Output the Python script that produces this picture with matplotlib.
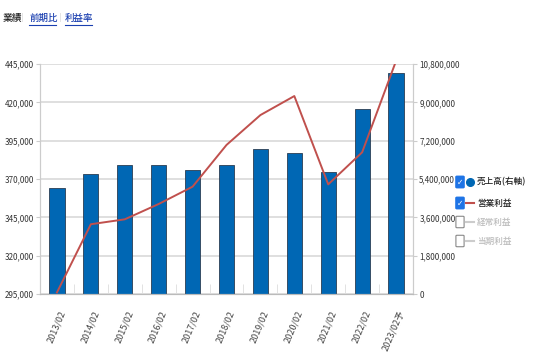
import matplotlib.pyplot as plt
from matplotlib.patches import FancyBboxPatch
from matplotlib.lines import Line2D
from matplotlib.ticker import FuncFormatter, FixedLocator
from matplotlib.transforms import ScaledTranslation

plt.rcParams['font.family'] = ['Noto Sans CJK JP', 'DejaVu Sans']

# データ
years = ['2013/02', '2014/02', '2015/02', '2016/02', '2017/02', '2018/02',
         '2019/02', '2020/02', '2021/02', '2022/02', '2023/02予']
sales = [4990000, 5620000, 6040000, 6040000, 5840000, 6040000,
         6790000, 6610000, 5710000, 8700000, 10390000]
op_profit = [296000, 340500, 343700, 353700, 365000, 392200,
             411700, 424100, 366500, 387400, 447000]
left_ticks = [295000, 320000, 345000, 370000, 395000, 420000, 445000]
right_ticks = [0, 1800000, 3600000, 5400000, 7200000, 9000000, 10800000]

x = list(range(len(years)))
fmt = FuncFormatter(lambda v, p: f'{int(v):,}')

fig = plt.figure(figsize=(5.44, 3.63), dpi=100)
ax = fig.add_axes([40/544, 69/363, 373/544, 230/363])
ax2 = ax.twinx()

# 売上高 (右軸)
ax2.bar(x, sales, width=0.45, color='#0067B4', edgecolor='#2b3d52', linewidth=0.6, zorder=2)
ax2.set_ylim(0, 10800000)
ax2.yaxis.set_major_locator(FixedLocator(right_ticks))
ax2.yaxis.set_major_formatter(fmt)
ax2.grid(axis='y', color='#d9d9d9', linewidth=1.2, zorder=0)
ax2.set_axisbelow(True)

# 営業利益 (左軸)
ax.set_zorder(ax2.get_zorder() + 1)
ax.patch.set_visible(False)
ax.plot(x, op_profit, color='#C0504D', linewidth=1.4, zorder=3, clip_on=True)
ax.set_ylim(295000, 445000)
ax.yaxis.set_major_locator(FixedLocator(left_ticks))
ax.yaxis.set_major_formatter(fmt)
ax.set_xlim(-0.5, len(years) - 0.5)
ax.set_xticks(x)
ax.set_xticklabels(years, rotation=67, ha='right', va='center', rotation_mode='anchor')
ax.xaxis.set_minor_locator(FixedLocator([i + 0.5 for i in x[:-1]]))

for a in (ax, ax2):
    for s in a.spines.values():
        s.set_color('#cccccc')
    a.spines['top'].set_visible(False)
    a.tick_params(labelsize=5.8, colors='#333333', length=3, width=0.8, pad=1.5)
    a.tick_params(axis='both', which='both', color='#cccccc')
ax.tick_params(axis='x', which='major', length=0, pad=12, labelsize=6.5, labelcolor='#444444')
ax.tick_params(axis='x', which='minor', direction='in', length=7, color='#dddddd')
ax.spines['bottom'].set_color('#bbbbbb')
for lab in ax.get_xticklabels():
    lab.set_transform(lab.get_transform() + ScaledTranslation(6/100, 0, fig.dpi_scale_trans))

# ヘッダー
hy = 1 - 18/363
fig.text(3/544, hy, '業績', fontsize=7, color='#222222', va='center', fontweight='medium')
fig.text(21/544, hy, '|', fontsize=6, color='#dddddd', va='center', family=['DejaVu Sans'])
fig.text(29/544, hy, '前期比', fontsize=6.8, color='#1a3fb0', va='center', fontweight='medium')
fig.text(59/544, hy, '|', fontsize=6, color='#dddddd', va='center', family=['DejaVu Sans'])
fig.text(65/544, hy, '利益率', fontsize=6.8, color='#1a3fb0', va='center', fontweight='medium')
for x0, x1 in [(29, 56), (65, 92)]:
    fig.add_artist(Line2D([x0/544, x1/544], [1 - 24.5/363] * 2, color='#1a3fb0', linewidth=0.8))

# 凡例
legend_items = [
    ('売上高(右軸)', True, 'circle', '#0067B4', '#222222'),
    ('営業利益', True, 'line', '#C0504D', '#222222'),
    ('経常利益', False, 'line', '#cccccc', '#bbbbbb'),
    ('当期利益', False, 'line', '#cccccc', '#bbbbbb'),
]
ys = [182, 203, 222, 241]
for (label, checked, kind, mcolor, tcolor), yy in zip(legend_items, ys):
    yf = 1 - yy/363
    if checked:
        box = FancyBboxPatch((457/544, yf - 5/363), 6/544, 10/363,
                             boxstyle='round,pad=0.002', transform=fig.transFigure,
                             facecolor='#1e74e6', edgecolor='#1e74e6')
        fig.add_artist(box)
        fig.text(460/544, yf, '✓', color='white', fontsize=5.5, ha='center', va='center',
                 family=['DejaVu Sans'], fontweight='bold')
    else:
        box = FancyBboxPatch((457/544, yf - 5/363), 6/544, 10/363,
                             boxstyle='round,pad=0.002', transform=fig.transFigure,
                             facecolor='white', edgecolor='#888888', linewidth=0.8)
        fig.add_artist(box)
    if kind == 'circle':
        fig.add_artist(Line2D([470/544], [yf], marker='o', markersize=5.5,
                              color=mcolor, transform=fig.transFigure))
    else:
        fig.add_artist(Line2D([466/544, 474/544], [yf, yf], color=mcolor,
                              linewidth=1.5, transform=fig.transFigure))
    fig.text(477/544, yf, label, fontsize=6.2, color=tcolor, va='center', fontweight='medium')

plt.savefig('out.png', dpi=100)
